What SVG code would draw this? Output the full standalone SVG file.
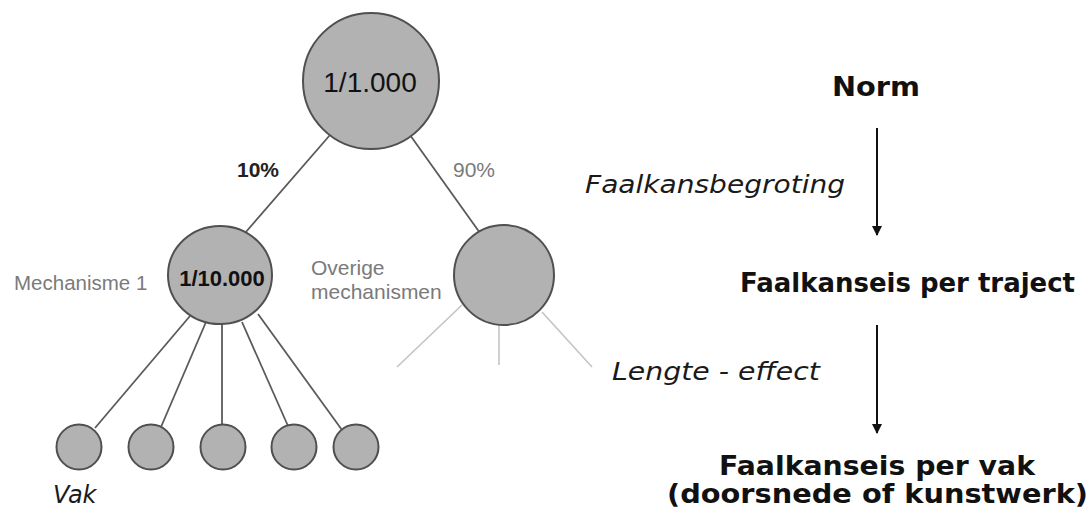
<svg xmlns="http://www.w3.org/2000/svg" width="1091" height="510" viewBox="0 0 1091 510">
<defs>
<style>
.node{fill:#b2b2b2;stroke:#505050;stroke-width:2}
.edge{stroke:#5a5a5a;stroke-width:1.8;fill:none}
.faint{stroke:#c4c4c4;stroke-width:1.6;fill:none}
.arrow{stroke:#111;stroke-width:2;fill:none}
.lbl{font-family:"Liberation Sans",Arial,sans-serif}
.gray{fill:#7a7a7a}
.vb{font-family:"DejaVu Sans",Verdana,sans-serif;font-weight:bold;fill:#111}
.vi{font-family:"DejaVu Sans",Verdana,sans-serif;font-style:italic;fill:#1a1a1a}
</style>
<marker id="ah" viewBox="0 0 10 10" refX="9" refY="5" markerWidth="5" markerHeight="5" orient="auto" markerUnits="strokeWidth">
<path d="M0,0 L10,5 L0,10 z" fill="#111"/>
</marker>
</defs>
<rect width="1091" height="510" fill="#fff"/>

<g id="connectors">
<line class="edge" x1="330" y1="135" x2="245" y2="233"/>
<line class="edge" x1="410" y1="135" x2="480" y2="233"/>
<line class="edge" x1="190" y1="316" x2="95" y2="428"/>
<line class="edge" x1="206" y1="322" x2="161" y2="427"/>
<line class="edge" x1="222" y1="324" x2="222" y2="424"/>
<line class="edge" x1="242" y1="322" x2="288" y2="426"/>
<line class="edge" x1="258" y1="314" x2="342" y2="430"/>
<line class="faint" x1="462" y1="305" x2="397" y2="367"/>
<line class="faint" x1="499" y1="325" x2="499" y2="365"/>
<line class="faint" x1="542" y1="312" x2="592" y2="367"/>
<line class="arrow" x1="877" y1="128" x2="877" y2="235" marker-end="url(#ah)"/>
<line class="arrow" x1="877" y1="325" x2="877" y2="433" marker-end="url(#ah)"/>
</g>

<g id="node-top">
<circle class="node" cx="371" cy="81" r="68"/>
<text class="lbl" x="370" y="92" font-size="28" text-anchor="middle" fill="#111">1/1.000</text>
</g>
<g id="label-10">
<text class="lbl" x="237" y="177" font-size="21" font-weight="bold" fill="#222">10%</text>
</g>
<g id="label-90">
<text class="lbl gray" x="453" y="177" font-size="21">90%</text>
</g>
<g id="node-mech1">
<ellipse class="node" cx="220" cy="275" rx="52" ry="49"/>
<text class="lbl" x="222" y="286" font-size="22" font-weight="bold" text-anchor="middle" fill="#111">1/10.000</text>
<text class="lbl gray" x="14" y="290" font-size="20.5">Mechanisme 1</text>
</g>
<g id="node-overige">
<circle class="node" cx="504" cy="275" r="50"/>
<text class="lbl gray" x="311" y="275" font-size="21">Overige</text>
<text class="lbl gray" x="311" y="299" font-size="21">mechanismen</text>
</g>
<g id="vak1"><circle class="node" cx="79" cy="447" r="22.5"/></g>
<g id="vak2"><circle class="node" cx="151" cy="447" r="22.5"/></g>
<g id="vak3"><circle class="node" cx="223" cy="447" r="22.5"/></g>
<g id="vak4"><circle class="node" cx="294" cy="447" r="22.5"/></g>
<g id="vak5"><circle class="node" cx="356" cy="447" r="22.5"/></g>
<g id="label-vak">
<text class="vi" x="53" y="503" font-size="24">Vak</text>
</g>

<g id="norm">
<text class="vb" x="876" y="96" font-size="26" text-anchor="middle" textLength="88" lengthAdjust="spacingAndGlyphs">Norm</text>
</g>
<g id="label-faalkansbegroting">
<text class="vi" x="585" y="193" font-size="25" textLength="260" lengthAdjust="spacingAndGlyphs">Faalkansbegroting</text>
</g>
<g id="traject">
<text class="vb" x="740" y="292" font-size="26" textLength="335" lengthAdjust="spacingAndGlyphs">Faalkanseis per traject</text>
</g>
<g id="label-lengte">
<text class="vi" x="612" y="380" font-size="25" textLength="208" lengthAdjust="spacingAndGlyphs">Lengte - effect</text>
</g>
<g id="vak-eis">
<text class="vb" x="719" y="475" font-size="27" textLength="316" lengthAdjust="spacingAndGlyphs">Faalkanseis per vak</text>
<text class="vb" x="667" y="503" font-size="27" textLength="421" lengthAdjust="spacingAndGlyphs">(doorsnede of kunstwerk)</text>
</g>
</svg>
